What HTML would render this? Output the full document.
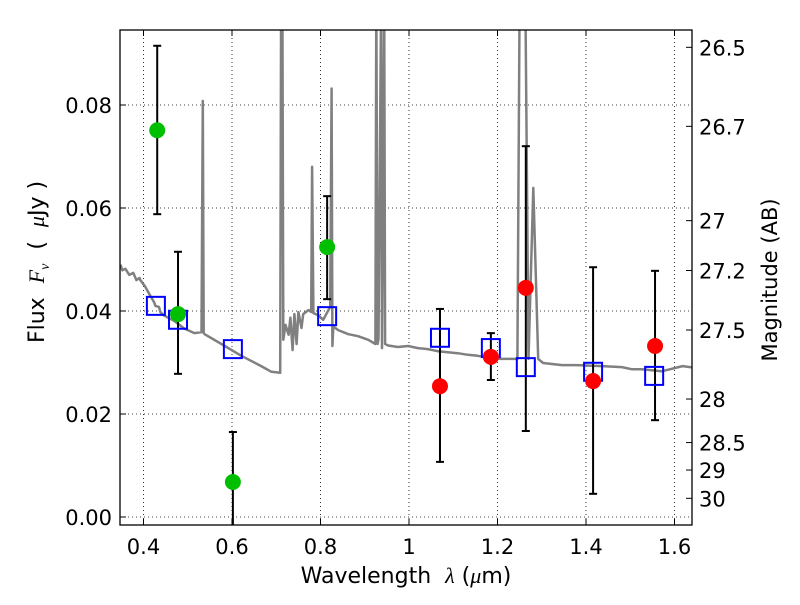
<!DOCTYPE html>
<html><head><meta charset="utf-8"><style>
body{margin:0;background:#fff;}
svg text{font-family:"DejaVu Sans","Liberation Sans",sans-serif;fill:#000;}
</style></head><body>
<svg id="chart" width="800" height="600" xmlns="http://www.w3.org/2000/svg">
<rect width="800" height="600" fill="#fff"/>
<g id="grid"></g>
<g id="spec"></g>
<g id="marks"></g>
<rect x="120" y="30" width="572" height="495" fill="none" stroke="#000" stroke-width="1.3"/>
<g id="axes"></g>
<text x="406" y="583" font-size="22" text-anchor="middle" xml:space="preserve">Wavelength  <tspan font-style="italic" font-family="Liberation Serif">λ</tspan> (<tspan font-style="italic" font-family="Liberation Serif">μ</tspan>m)</text>
<text transform="translate(44,262) rotate(-90)" font-size="22" text-anchor="middle" xml:space="preserve">Flux  <tspan font-style="italic" font-family="Liberation Serif">F</tspan><tspan font-style="italic" font-family="Liberation Serif" font-size="14" dy="5">ν</tspan><tspan dy="-5">  (  </tspan><tspan font-style="italic" font-family="Liberation Serif">μ</tspan>Jy )</text>
<text transform="translate(777,280) rotate(-90)" font-size="21" text-anchor="middle">Magnitude (AB)</text>
</svg>
<script>
const xTicks=[0.4,0.6,0.8,1.0,1.2,1.4,1.6];
const xTickLabels=["0.4","0.6","0.8","1","1.2","1.4","1.6"];
const yTicks=[0,0.02,0.04,0.06,0.08];
const yTickLabels=["0.00","0.02","0.04","0.06","0.08"];
const magTicks=[26.5,26.7,27,27.2,27.5,28,28.5,29,30];
const magTickLabels=["26.5","26.7","27","27.2","27.5","28","28.5","29","30"];
const greenWl=[0.431,0.478,0.602,0.815];
const greenFlux=[0.0751,0.0394,0.0068,0.0524];
const greenHi=[0.0915,0.0515,0.0165,0.0623];
const greenLo=[0.0588,0.0278,-0.003,0.0423];
const redWl=[1.070,1.185,1.264,1.416,1.556];
const redFlux=[0.0254,0.0311,0.0445,0.0264,0.0332];
const redHi=[0.0404,0.0357,0.072,0.0485,0.0478];
const redLo=[0.0107,0.0266,0.0167,0.0045,0.0188];
const modelWl=[0.428,0.478,0.602,0.815,1.070,1.185,1.264,1.416,1.554];
const modelFlux=[0.0410,0.0383,0.0326,0.0390,0.0348,0.0328,0.0291,0.0282,0.0274];
const specWl=[0.348,0.352,0.359,0.368,0.377,0.384,0.391,0.393,0.404,0.413,0.424,0.427,0.435,0.438,0.445,0.469,0.492,0.515,0.531,0.534,0.536,0.538,0.576,0.621,0.666,0.689,0.709,0.711,0.714,0.716,0.721,0.728,0.732,0.737,0.741,0.746,0.750,0.757,0.761,0.773,0.779,0.781,0.784,0.795,0.806,0.822,0.825,0.827,0.829,0.840,0.863,0.885,0.908,0.924,0.926,0.929,0.931,0.937,0.939,0.944,0.946,0.953,0.975,0.998,1.020,1.043,1.065,1.088,1.110,1.133,1.155,1.200,1.245,1.250,1.263,1.270,1.281,1.292,1.303,1.346,1.380,1.436,1.481,1.503,1.526,1.571,1.618,1.643];
const specFlux=[0.0490,0.0479,0.0482,0.0470,0.0474,0.0460,0.0464,0.0460,0.0447,0.0433,0.0417,0.0410,0.0408,0.0398,0.0392,0.0381,0.0366,0.0357,0.0359,0.0808,0.0357,0.0355,0.0336,0.0313,0.0293,0.0282,0.0280,0.1000,0.1000,0.0344,0.0373,0.0354,0.0387,0.0324,0.0394,0.0336,0.0398,0.0367,0.0394,0.0402,0.0398,0.0680,0.0396,0.0392,0.0383,0.0408,0.0832,0.0332,0.0370,0.0363,0.0355,0.0351,0.0344,0.0336,0.1000,0.0336,0.0346,0.1000,0.0328,0.1000,0.0336,0.0333,0.0330,0.0332,0.0328,0.0326,0.0322,0.0320,0.0318,0.0315,0.0313,0.0307,0.0307,0.1000,0.1000,0.0307,0.0639,0.0307,0.0299,0.0295,0.0295,0.0293,0.0291,0.0287,0.0287,0.0283,0.0293,0.0290];

const X0=120,X1=692,Y0=30,Y1=525;
const xs=v=>143.5+(v-0.4)*442.5;
const ys=v=>517-v*5150;
const NS="http://www.w3.org/2000/svg";
function mk(tag,parent,attrs){const e=document.createElementNS(NS,tag);for(const k in attrs)e.setAttribute(k,attrs[k]);parent.appendChild(e);return e;}
const grid=document.getElementById('grid'),axes=document.getElementById('axes'),spec=document.getElementById('spec'),marks=document.getElementById('marks');

xTicks.forEach((t,i)=>{const x=xs(t);
 const g=mk('line',grid,{x1:x,x2:x,y1:Y0,y2:Y1,stroke:'#000','stroke-width':0.8,'stroke-dasharray':'1,3'});
 
 
 const tk=mk('line',axes,{x1:x,x2:x,y1:Y1,y2:Y1-6,stroke:'#000'});
 
 
 const tk2=mk('line',axes,{x1:x,x2:x,y1:Y0,y2:Y0+6,stroke:'#000'});
 
 
 const tx=mk('text',axes,{x:x,y:554,'font-size':21,'text-anchor':'middle'});tx.textContent=xTickLabels[i];
 
 
});
yTicks.forEach((t,i)=>{const y=ys(t);
 const g=mk('line',grid,{x1:X0,x2:X1,y1:y,y2:y,stroke:'#000','stroke-width':0.8,'stroke-dasharray':'1,3'});
 
 
 const tk=mk('line',axes,{x1:X0,x2:X0+6,y1:y,y2:y,stroke:'#000'});
 
 
 const tx=mk('text',axes,{x:112,y:y+8,'font-size':21,'text-anchor':'end'});tx.textContent=yTickLabels[i];
 
 
});
magTicks.forEach((m,i)=>{const y=ys(Math.pow(10,(23.9-m)/2.5));
 const tk=mk('line',axes,{x1:X1,x2:X1-6,y1:y,y2:y,stroke:'#000'});
 
 
 const tx=mk('text',axes,{x:699,y:y+8,'font-size':21});tx.textContent=magTickLabels[i];
 
 
});
const defs=mk('defs',document.getElementById('chart'),{});
const cp=mk('clipPath',defs,{id:'clip'});mk('rect',cp,{x:X0,y:Y0,width:X1-X0,height:Y1-Y0});
spec.setAttribute('clip-path','url(#clip)');
marks.setAttribute('clip-path','url(#clip)');
const pts=specWl.map((w,i)=>xs(w).toFixed(1)+','+ys(specFlux[i]).toFixed(1)).join(' ');
const pl=mk('polyline',spec,{points:pts,fill:'none',stroke:'#808080','stroke-width':2.5,'stroke-linejoin':'round'});



function errbar(x,hi,lo){
 const e=mk('g',marks,{stroke:'#000','stroke-width':2});
 
 
 mk('line',e,{x1:x,x2:x,y1:ys(hi),y2:ys(lo)});
 mk('line',e,{x1:x-4,x2:x+4,y1:ys(hi),y2:ys(hi)});
 mk('line',e,{x1:x-4,x2:x+4,y1:ys(lo),y2:ys(lo)});
}
greenWl.forEach((w,i)=>errbar(xs(w),greenHi[i],greenLo[i]));
redWl.forEach((w,i)=>errbar(xs(w),redHi[i],redLo[i]));
modelWl.forEach((w,i)=>{
 const r=mk('rect',marks,{x:xs(w)-9,y:ys(modelFlux[i])-9,width:18,height:18,fill:'none',stroke:'#0000ff','stroke-width':2});
 
 
});
greenWl.forEach((w,i)=>{
 const c=mk('circle',marks,{cx:xs(w),cy:ys(greenFlux[i]),r:8,fill:'#00bf00'});
 
 
});
redWl.forEach((w,i)=>{
 const c=mk('circle',marks,{cx:xs(w),cy:ys(redFlux[i]),r:8,fill:'#ff0000'});
 
 
});
</script>
</body></html>
